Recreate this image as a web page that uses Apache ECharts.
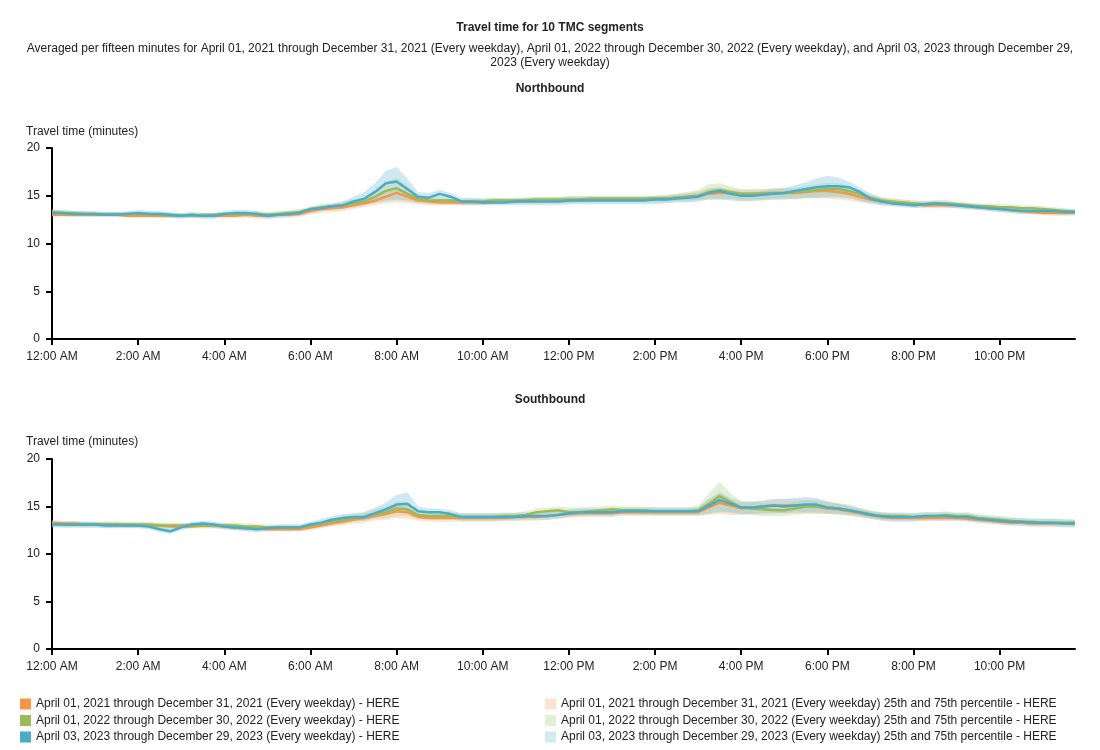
<!DOCTYPE html>
<html>
<head>
<meta charset="utf-8">
<script src="https://cdn.jsdelivr.net/npm/echarts@6/dist/echarts.min.js"></script>
<style>
html,body{margin:0;padding:0;background:#fff;}
#chart{width:1100px;height:750px;}
</style>
</head>
<body>
<div id="chart"></div>
<script>
// ---- Data (15-minute bins, 00:00 .. 23:45) ----
const seriesNames = [
  'April 01, 2021 through December 31, 2021 (Every weekday) - HERE',
  'April 01, 2022 through December 30, 2022 (Every weekday) - HERE',
  'April 03, 2023 through December 29, 2023 (Every weekday) - HERE'
];
const bandNames = [
  'April 01, 2021 through December 31, 2021 (Every weekday) 25th and 75th percentile - HERE',
  'April 01, 2022 through December 30, 2022 (Every weekday) 25th and 75th percentile - HERE',
  'April 03, 2023 through December 29, 2023 (Every weekday) 25th and 75th percentile - HERE'
];
const tickLabels = ['12:00 AM','2:00 AM','4:00 AM','6:00 AM','8:00 AM','10:00 AM','12:00 PM','2:00 PM','4:00 PM','6:00 PM','8:00 PM','10:00 PM'];

// Northbound
const nb2021 = [
13.0,13.0,13.0,13.0, 13.0,13.0,13.0,12.9, 12.9,12.9,12.9,12.9, 12.9,12.9,12.9,12.9,
12.9,12.9,13.0,12.9, 12.9,13.0,13.0,13.1, 13.4,13.6,13.7,13.8, 14.0,14.2,14.5,14.9,
15.3,14.9,14.5,14.4, 14.3,14.3,14.3,14.3, 14.3,14.4,14.4,14.4, 14.5,14.5,14.5,14.5,
14.5,14.6,14.6,14.6, 14.6,14.6,14.6,14.6, 14.7,14.7,14.8,14.9, 15.0,15.2,15.3,15.3,
15.2,15.2,15.3,15.3, 15.3,15.3,15.4,15.5, 15.5,15.4,15.2,14.9, 14.6,14.4,14.3,14.3,
14.2,14.0,14.0,14.0, 14.0,13.9,13.8,13.7, 13.6,13.5,13.4,13.3, 13.2,13.2,13.2,13.2];
const nb2022 = [
13.3,13.2,13.2,13.1, 13.1,13.1,13.1,13.1, 13.1,13.1,13.0,12.9, 12.9,12.9,13.0,13.0,
13.1,13.1,13.1,13.1, 13.0,13.1,13.2,13.3, 13.6,13.8,13.9,14.0, 14.2,14.4,14.9,15.5,
15.8,15.2,14.7,14.5, 14.5,14.5,14.4,14.4, 14.4,14.5,14.5,14.5, 14.5,14.6,14.6,14.6,
14.6,14.6,14.7,14.7, 14.7,14.7,14.7,14.7, 14.7,14.7,14.8,14.9, 15.0,15.4,15.6,15.4,
15.2,15.2,15.2,15.3, 15.3,15.4,15.5,15.6, 15.7,15.7,15.5,15.2, 14.8,14.5,14.4,14.3,
14.2,14.1,14.2,14.2, 14.1,14.0,13.9,13.9, 13.8,13.8,13.7,13.7, 13.6,13.5,13.4,13.3];
const nb2023 = [
13.2,13.2,13.1,13.1, 13.1,13.0,13.0,13.1, 13.2,13.1,13.1,13.0, 12.9,13.0,12.9,12.9,
13.1,13.2,13.2,13.1, 12.9,13.0,13.1,13.2, 13.6,13.7,13.9,14.0, 14.4,14.7,15.4,16.3,
16.5,15.7,14.9,14.8, 15.2,14.9,14.4,14.4, 14.3,14.3,14.3,14.4, 14.4,14.4,14.4,14.4,
14.5,14.5,14.5,14.5, 14.5,14.5,14.5,14.5, 14.6,14.6,14.7,14.8, 14.9,15.3,15.5,15.2,
15.0,15.0,15.1,15.2, 15.3,15.5,15.7,15.9, 16.0,16.0,15.9,15.4, 14.7,14.4,14.2,14.1,
14.0,14.1,14.2,14.1, 14.0,13.9,13.8,13.7, 13.6,13.5,13.4,13.4, 13.4,13.4,13.3,13.3];
const nb2021p25 = [
12.8,12.8,12.8,12.8, 12.8,12.8,12.8,12.7, 12.7,12.7,12.7,12.7, 12.7,12.7,12.7,12.7,
12.7,12.7,12.7,12.6, 12.6,12.7,12.7,12.8, 13.0,13.2,13.3,13.4, 13.6,13.8,14.0,14.2,
14.3,14.2,14.1,14.0, 14.0,14.0,14.0,14.0, 14.0,14.1,14.1,14.1, 14.2,14.2,14.2,14.2,
14.2,14.3,14.3,14.3, 14.3,14.3,14.3,14.3, 14.3,14.3,14.4,14.4, 14.5,14.6,14.6,14.6,
14.5,14.5,14.6,14.6, 14.6,14.6,14.7,14.7, 14.7,14.6,14.5,14.3, 14.2,14.0,13.9,13.9,
13.8,13.7,13.7,13.7, 13.7,13.6,13.5,13.4, 13.3,13.2,13.1,13.0, 13.0,12.9,12.9,12.9];
const nb2021p75 = [
13.3,13.3,13.3,13.3, 13.2,13.2,13.2,13.2, 13.2,13.2,13.1,13.1, 13.1,13.1,13.1,13.1,
13.2,13.2,13.2,13.2, 13.2,13.2,13.3,13.4, 13.7,13.9,14.0,14.2, 14.4,14.6,14.9,15.5,
15.9,15.4,14.9,14.7, 14.6,14.6,14.6,14.6, 14.6,14.7,14.7,14.7, 14.8,14.8,14.8,14.8,
14.9,14.9,14.9,14.9, 14.9,14.9,14.9,14.9, 15.0,15.0,15.2,15.3, 15.5,15.8,15.8,15.7,
15.6,15.6,15.7,15.7, 15.7,15.7,15.8,15.9, 15.9,15.8,15.6,15.3, 15.0,14.8,14.7,14.6,
14.5,14.4,14.3,14.3, 14.3,14.2,14.1,14.0, 13.9,13.8,13.7,13.6, 13.6,13.5,13.5,13.5];
const nb2022p25 = [
12.9,12.9,12.9,12.9, 12.9,12.9,12.9,12.8, 12.8,12.8,12.7,12.7, 12.7,12.7,12.7,12.7,
12.8,12.8,12.8,12.8, 12.8,12.8,12.9,13.0, 13.2,13.4,13.5,13.6, 13.8,14.0,14.2,14.4,
14.5,14.4,14.2,14.1, 14.1,14.1,14.1,14.1, 14.1,14.2,14.2,14.2, 14.2,14.3,14.3,14.3,
14.3,14.3,14.4,14.4, 14.4,14.4,14.4,14.4, 14.4,14.4,14.5,14.5, 14.6,14.7,14.7,14.7,
14.6,14.6,14.6,14.7, 14.7,14.7,14.8,14.8, 14.8,14.8,14.7,14.5, 14.3,14.1,14.1,14.0,
13.9,13.8,13.9,13.9, 13.8,13.7,13.6,13.6, 13.5,13.5,13.4,13.4, 13.3,13.2,13.1,13.1];
const nb2022p75 = [
13.6,13.5,13.4,13.4, 13.3,13.3,13.3,13.3, 13.3,13.3,13.3,13.2, 13.2,13.2,13.2,13.2,
13.3,13.3,13.3,13.4, 13.3,13.4,13.5,13.6, 13.9,14.1,14.2,14.4, 14.6,14.8,15.5,16.4,
16.9,16.0,15.1,14.9, 14.8,14.7,14.7,14.7, 14.7,14.8,14.8,14.8, 14.8,14.9,14.9,14.9,
15.0,15.0,15.0,15.0, 15.0,15.0,15.0,15.0, 15.0,15.1,15.2,15.4, 15.6,16.2,16.3,16.0,
15.7,15.7,15.7,15.8, 15.8,15.9,16.0,16.2, 16.4,16.3,16.1,15.6, 15.2,14.9,14.7,14.6,
14.5,14.5,14.5,14.6, 14.4,14.3,14.2,14.2, 14.1,14.1,14.0,14.0, 13.9,13.8,13.7,13.6];
const nb2023p25 = [
12.9,12.9,12.8,12.8, 12.8,12.8,12.8,12.8, 12.9,12.8,12.8,12.7, 12.6,12.7,12.6,12.6,
12.8,12.9,12.9,12.8, 12.6,12.7,12.8,12.9, 13.2,13.4,13.5,13.6, 13.9,14.0,14.3,14.5,
14.6,14.5,14.3,14.3, 14.4,14.2,14.0,14.0, 14.0,14.0,14.0,14.0, 14.0,14.0,14.0,14.0,
14.1,14.1,14.1,14.1, 14.1,14.1,14.1,14.1, 14.1,14.2,14.3,14.3, 14.4,14.6,14.6,14.5,
14.4,14.4,14.5,14.6, 14.6,14.7,14.8,14.8, 14.9,14.9,14.8,14.5, 14.2,14.0,13.9,13.8,
13.7,13.8,13.8,13.8, 13.7,13.6,13.5,13.4, 13.3,13.2,13.1,13.1, 13.1,13.1,13.0,13.0];
const nb2023p75 = [
13.5,13.5,13.4,13.4, 13.4,13.3,13.3,13.4, 13.5,13.4,13.4,13.3, 13.2,13.3,13.2,13.2,
13.4,13.5,13.5,13.4, 13.2,13.3,13.4,13.5, 13.8,14.0,14.2,14.4, 14.9,15.4,16.3,17.6,
18.0,16.8,15.4,15.3, 15.6,15.3,14.8,14.8, 14.7,14.7,14.7,14.7, 14.8,14.8,14.8,14.8,
14.9,14.9,14.9,14.9, 14.9,14.9,14.9,14.9, 15.0,15.0,15.1,15.2, 15.3,15.7,15.9,15.6,
15.4,15.4,15.5,15.7, 15.8,16.1,16.4,16.8, 17.1,16.9,16.5,15.9, 15.2,14.8,14.5,14.4,
14.3,14.4,14.5,14.4, 14.3,14.2,14.1,14.0, 13.9,13.8,13.7,13.7, 13.7,13.7,13.6,13.6];

// Southbound
const sb2021 = [
13.3,13.2,13.2,13.1, 13.1,13.1,13.1,13.0, 13.0,13.0,13.0,12.9, 12.9,12.9,13.0,13.0,
12.9,12.8,12.7,12.7, 12.6,12.6,12.6,12.6, 12.8,13.0,13.2,13.4, 13.6,13.8,14.0,14.2,
14.5,14.4,13.9,13.8, 13.8,13.8,13.8,13.8, 13.8,13.8,13.8,13.9, 13.9,13.9,14.0,14.1,
14.2,14.3,14.3,14.3, 14.3,14.4,14.4,14.4, 14.4,14.4,14.4,14.4, 14.4,14.9,15.4,15.1,
14.8,14.9,15.0,15.1, 15.1,15.1,15.1,15.0, 14.8,14.7,14.5,14.3, 14.1,13.9,13.8,13.8,
13.8,13.8,13.8,13.8, 13.8,13.7,13.6,13.5, 13.4,13.3,13.3,13.2, 13.2,13.2,13.2,13.2];
const sb2022 = [
13.2,13.1,13.1,13.1, 13.1,13.1,13.1,13.1, 13.1,13.1,13.0,13.0, 13.0,13.0,13.0,13.0,
13.0,13.0,12.9,12.9, 12.8,12.8,12.8,12.8, 13.0,13.2,13.4,13.6, 13.8,13.9,14.2,14.4,
14.8,14.7,14.1,14.0, 14.0,14.0,13.9,13.9, 13.9,13.9,14.0,14.0, 14.1,14.4,14.5,14.6,
14.4,14.4,14.5,14.6, 14.7,14.6,14.6,14.6, 14.5,14.5,14.5,14.5, 14.6,15.3,16.1,15.5,
14.9,14.8,14.7,14.6, 14.6,14.8,15.0,15.0, 14.9,14.8,14.6,14.4, 14.2,14.0,14.0,14.0,
13.9,14.0,14.0,14.1, 14.0,14.0,13.8,13.7, 13.6,13.5,13.4,13.4, 13.3,13.3,13.3,13.3];
const sb2023 = [
13.1,13.1,13.1,13.1, 13.1,13.0,13.0,13.0, 13.0,12.9,12.6,12.4, 12.8,13.1,13.2,13.1,
12.9,12.8,12.7,12.6, 12.7,12.8,12.8,12.8, 13.1,13.3,13.6,13.8, 13.9,13.9,14.3,14.7,
15.2,15.3,14.5,14.4, 14.4,14.2,13.9,13.9, 13.9,13.9,13.9,13.9, 14.0,14.0,14.0,14.1,
14.3,14.4,14.4,14.4, 14.4,14.5,14.5,14.5, 14.5,14.5,14.5,14.5, 14.5,15.1,15.7,15.3,
14.9,14.9,15.0,15.1, 15.0,15.1,15.2,15.2, 14.9,14.8,14.6,14.4, 14.1,14.0,13.9,13.9,
13.9,14.0,14.0,14.0, 13.9,13.9,13.7,13.6, 13.5,13.4,13.4,13.3, 13.3,13.3,13.2,13.2];
const sb2021p25 = [
13.0,12.9,12.9,12.9, 12.9,12.8,12.8,12.8, 12.8,12.8,12.8,12.7, 12.7,12.7,12.7,12.7,
12.6,12.5,12.5,12.4, 12.4,12.4,12.4,12.4, 12.5,12.7,12.9,13.0, 13.2,13.3,13.5,13.6,
13.8,13.7,13.5,13.4, 13.4,13.4,13.4,13.4, 13.4,13.4,13.5,13.5, 13.5,13.5,13.6,13.7,
13.8,13.9,13.9,13.9, 13.9,14.0,14.0,14.0, 14.0,14.0,14.0,14.0, 14.0,14.1,14.2,14.1,
14.1,14.2,14.2,14.3, 14.3,14.3,14.3,14.2, 14.2,14.1,14.0,13.9, 13.7,13.6,13.5,13.5,
13.5,13.5,13.5,13.5, 13.5,13.4,13.3,13.2, 13.1,13.0,13.0,12.9, 12.9,12.9,12.9,12.9];
const sb2021p75 = [
13.6,13.5,13.5,13.4, 13.4,13.4,13.4,13.3, 13.3,13.3,13.3,13.2, 13.2,13.2,13.3,13.3,
13.2,13.1,13.0,13.0, 12.9,12.9,12.9,12.9, 13.1,13.3,13.5,13.7, 14.0,14.2,14.5,14.8,
15.2,15.1,14.3,14.2, 14.2,14.2,14.2,14.2, 14.2,14.2,14.2,14.3, 14.3,14.4,14.4,14.5,
14.6,14.7,14.7,14.7, 14.7,14.8,14.8,14.8, 14.8,14.8,14.8,14.8, 14.9,15.8,16.4,15.7,
15.4,15.5,15.6,15.7, 15.8,15.8,15.7,15.6, 15.4,15.3,15.0,14.7, 14.5,14.3,14.2,14.2,
14.1,14.1,14.1,14.1, 14.1,14.0,13.9,13.8, 13.7,13.6,13.6,13.5, 13.5,13.5,13.5,13.5];
const sb2022p25 = [
12.9,12.8,12.8,12.8, 12.8,12.8,12.8,12.8, 12.8,12.8,12.7,12.7, 12.7,12.7,12.7,12.7,
12.7,12.6,12.6,12.6, 12.5,12.5,12.5,12.5, 12.7,12.9,13.1,13.2, 13.4,13.5,13.7,13.8,
14.0,14.0,13.7,13.6, 13.6,13.6,13.5,13.5, 13.5,13.5,13.6,13.6, 13.7,13.9,14.0,14.1,
14.0,14.0,14.1,14.1, 14.2,14.2,14.2,14.2, 14.1,14.1,14.1,14.1, 14.1,14.2,14.4,14.3,
14.2,14.1,14.0,14.0, 14.0,14.1,14.2,14.3, 14.2,14.2,14.1,14.0, 13.8,13.6,13.6,13.6,
13.6,13.6,13.7,13.7, 13.6,13.6,13.5,13.4, 13.3,13.2,13.1,13.1, 13.0,13.0,13.0,12.9];
const sb2022p75 = [
13.5,13.4,13.4,13.4, 13.4,13.4,13.4,13.4, 13.4,13.4,13.3,13.3, 13.3,13.3,13.3,13.3,
13.3,13.3,13.2,13.2, 13.1,13.1,13.1,13.1, 13.3,13.5,13.7,14.0, 14.2,14.4,14.7,15.0,
15.5,15.4,14.6,14.4, 14.4,14.4,14.3,14.3, 14.3,14.3,14.4,14.4, 14.5,14.8,14.9,15.0,
14.9,14.9,15.0,15.0, 15.1,15.0,15.0,15.0, 14.9,14.9,14.9,14.9, 15.1,16.4,17.6,16.4,
15.6,15.5,15.4,15.3, 15.3,15.5,15.7,15.7, 15.6,15.4,15.2,14.9, 14.6,14.4,14.4,14.4,
14.3,14.4,14.4,14.5, 14.4,14.4,14.2,14.1, 14.0,13.9,13.8,13.7, 13.7,13.7,13.7,13.6];
const sb2023p25 = [
12.8,12.8,12.8,12.8, 12.8,12.7,12.7,12.7, 12.7,12.6,12.3,12.1, 12.5,12.8,12.9,12.8,
12.6,12.5,12.4,12.3, 12.4,12.5,12.5,12.5, 12.8,13.0,13.2,13.4, 13.5,13.5,13.8,14.1,
14.4,14.4,14.0,13.9, 13.9,13.8,13.5,13.5, 13.5,13.5,13.5,13.5, 13.6,13.6,13.6,13.7,
13.9,14.0,14.0,14.0, 14.0,14.1,14.1,14.1, 14.1,14.1,14.1,14.1, 14.1,14.3,14.5,14.4,
14.2,14.2,14.3,14.3, 14.3,14.4,14.4,14.4, 14.3,14.2,14.1,13.9, 13.7,13.5,13.4,13.4,
13.4,13.5,13.5,13.5, 13.5,13.5,13.3,13.2, 13.1,13.0,13.0,12.9, 12.9,12.9,12.8,12.8];
const sb2023p75 = [
13.4,13.4,13.4,13.4, 13.4,13.3,13.3,13.3, 13.3,13.2,12.9,12.7, 13.1,13.4,13.5,13.4,
13.2,13.1,13.0,12.9, 13.0,13.1,13.1,13.1, 13.4,13.7,14.0,14.2, 14.3,14.4,14.9,15.4,
16.2,16.5,15.0,14.8, 14.8,14.6,14.3,14.3, 14.3,14.3,14.3,14.3, 14.4,14.4,14.4,14.5,
14.7,14.8,14.8,14.8, 14.8,14.9,14.9,14.9, 14.9,14.9,14.9,14.9, 14.9,15.8,16.5,15.9,
15.5,15.5,15.6,15.8, 15.8,15.9,16.0,15.9, 15.5,15.3,15.1,14.8, 14.5,14.4,14.3,14.3,
14.3,14.4,14.4,14.4, 14.3,14.3,14.1,14.0, 13.9,13.8,13.8,13.7, 13.7,13.7,13.6,13.6];

// ---- Chart build ----
const categories = nb2021.map((_, i) => String(i * 15)); // minutes after midnight
const lineColors = ['#F79646', '#9BBB59', '#4BACC6'];
const bandColors = ['rgba(250,180,130,0.35)', 'rgba(190,215,150,0.40)', 'rgba(150,205,225,0.45)'];
const legendBandColors = ['#FDE3D1', '#E4EED6', '#D3EAF2'];
const font = 'Liberation Sans, Arial, sans-serif';

function diff(lo, hi) { return hi.map((v, i) => +(v - lo[i]).toFixed(2)); }

const panels = [
  { key: 'nb', means: [nb2021, nb2022, nb2023], lo: [nb2021p25, nb2022p25, nb2023p25], hi: [nb2021p75, nb2022p75, nb2023p75] },
  { key: 'sb', means: [sb2021, sb2022, sb2023], lo: [sb2021p25, sb2022p25, sb2023p25], hi: [sb2021p75, sb2022p75, sb2023p75] }
];

const series = [];
panels.forEach((p, gi) => {
  for (let k = 0; k < 3; k++) {
    series.push({
      type: 'line', name: p.key + '_lo_' + k, xAxisIndex: gi, yAxisIndex: gi,
      stack: p.key + 'band' + k, data: p.lo[k], showSymbol: false, symbol: 'none',
      lineStyle: { opacity: 0, width: 0 }, silent: true, z: 1
    });
    series.push({
      type: 'line', name: bandNames[k], xAxisIndex: gi, yAxisIndex: gi,
      stack: p.key + 'band' + k, data: diff(p.lo[k], p.hi[k]), showSymbol: false, symbol: 'none',
      itemStyle: { color: legendBandColors[k] },
      lineStyle: { opacity: 0, width: 0 }, areaStyle: { color: bandColors[k], opacity: 1 }, silent: true, z: 1
    });
  }
  for (let k = 0; k < 3; k++) {
    series.push({
      type: 'line', name: seriesNames[k], xAxisIndex: gi, yAxisIndex: gi,
      data: p.means[k], showSymbol: false, symbol: 'none',
      itemStyle: { color: lineColors[k] },
      lineStyle: { color: lineColors[k], width: 2.5 }, z: 3 + k
    });
  }
});

const axisCommonX = {
  type: 'category', data: categories, boundaryGap: false,
  axisLine: { show: true, onZero: false, lineStyle: { color: '#000', width: 2 } },
  axisTick: { show: true, length: 6, interval: 7, lineStyle: { color: '#000', width: 2 } },
  axisLabel: { interval: 7, formatter: (v, i) => tickLabels[i / 8] || '', color: '#222', fontSize: 12, fontFamily: font, margin: 12 },
  splitLine: { show: false }
};
const axisCommonY = {
  type: 'value', min: 0, max: 20, interval: 5,
  axisLine: { show: true, lineStyle: { color: '#000', width: 2 } },
  axisTick: { show: true, length: 6, lineStyle: { color: '#000', width: 2 } },
  axisLabel: { color: '#222', fontSize: 12, fontFamily: font, margin: 12 },
  splitLine: { show: false }
};

const ts = (bold) => ({ fontSize: 12, fontWeight: bold ? 'bold' : 'normal', color: '#222', fontFamily: font });
const legendRows = [];
seriesNames.forEach((n, k) => legendRows.push({
  orient: 'horizontal', left: 20, top: 698 + k * 16.5, itemWidth: 11, itemHeight: 11, icon: 'rect', padding: 0,
  textStyle: ts(false), selectedMode: false, data: [{ name: n, itemStyle: { color: lineColors[k] } }]
}));
bandNames.forEach((n, k) => legendRows.push({
  orient: 'horizontal', left: 545, top: 698 + k * 16.5, itemWidth: 11, itemHeight: 11, icon: 'rect', padding: 0,
  textStyle: ts(false), selectedMode: false, data: [{ name: n, itemStyle: { color: legendBandColors[k] } }]
}));

const option = {
  animation: false,
  backgroundColor: '#fff',
  textStyle: { fontFamily: font },
  title: [
    { text: 'Travel time for 10 TMC segments', left: 550, textAlign: 'center', top: 22, padding: 0, textStyle: ts(true) },
    { text: 'Averaged per fifteen minutes for April 01, 2021 through December 31, 2021 (Every weekday), April 01, 2022 through December 30, 2022 (Every weekday), and April 03, 2023 through December 29,\n2023 (Every weekday)',
      left: 550, textAlign: 'center', top: 42, padding: 0, textStyle: Object.assign(ts(false), { lineHeight: 14 }) },
    { text: 'Northbound', left: 550, textAlign: 'center', top: 83, padding: 0, textStyle: ts(true) },
    { text: 'Travel time (minutes)', left: 26, top: 126, padding: 0, textStyle: ts(false) },
    { text: 'Southbound', left: 550, textAlign: 'center', top: 394, padding: 0, textStyle: ts(true) },
    { text: 'Travel time (minutes)', left: 26, top: 436, padding: 0, textStyle: ts(false) }
  ],
  legend: legendRows,
  grid: [
    { left: 52, top: 148, width: 1023, height: 191, containLabel: false },
    { left: 52, top: 459, width: 1023, height: 190, containLabel: false }
  ],
  xAxis: [Object.assign({ gridIndex: 0 }, axisCommonX), Object.assign({ gridIndex: 1 }, axisCommonX)],
  yAxis: [Object.assign({ gridIndex: 0 }, axisCommonY), Object.assign({ gridIndex: 1 }, axisCommonY)],
  series: series
};

const chart = echarts.init(document.getElementById('chart'), null, { renderer: 'canvas' });
chart.setOption(option);
</script>
</body>
</html>
